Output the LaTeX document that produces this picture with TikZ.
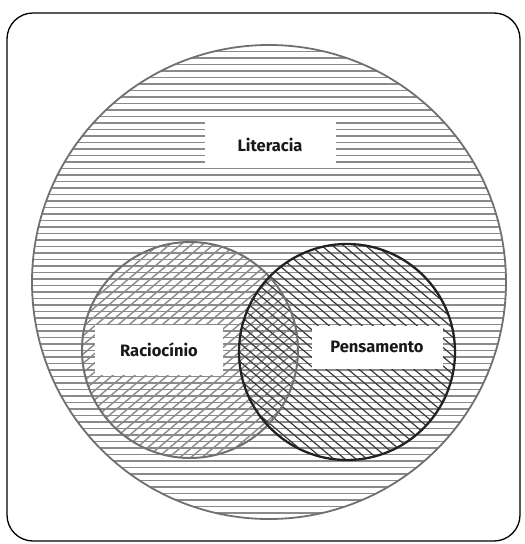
\documentclass[tikz,border=0pt]{standalone}
\usepackage{fontspec}
\setmainfont{Fira Sans}
\definecolor{hatchgray}{HTML}{8A8A8A}
\definecolor{rimgray}{HTML}{707070}
\definecolor{darkhatch}{HTML}{3A3A3A}
\definecolor{darkrim}{HTML}{222222}
\begin{document}
\begin{tikzpicture}[x=1pt,y=-1pt,
  frame/.style={draw=black, line width=1.3pt, rounded corners=26pt},
  hline/.style={draw=hatchgray, line width=1.6pt},
  slashline/.style={draw=hatchgray, line width=1.4pt},
  backline/.style={draw=darkhatch, line width=1.2pt},
  label/.style={fill=white, inner sep=0pt, font=\fontsize{16.5}{19}\selectfont\bfseries, text=black!90},
  ring/.style={circle, inner sep=0pt}
]
\useasboundingbox (0,0) rectangle (525,544);
\draw[frame] (7,13) rectangle (520,541);

% hatching of the big circle
\begin{scope}
  \clip (269,282) circle[radius=237];
  \foreach \yy in {45,51.5,...,522} \draw[hline] (28,\yy) -- (510,\yy);
\end{scope}
% hatching of the left circle
\begin{scope}
  \clip (190,350) circle[radius=108];
  \foreach \k in {-220,-209,...,320} \draw[slashline] (\k,470) -- ++(286,-240);
\end{scope}
% hatching of the right circle
\begin{scope}
  \clip (347,352) circle[radius=108];
  \foreach \k in {-60,-49,...,470} \draw[backline] (\k,230) -- ++(286,240);
\end{scope}

\node[ring, minimum size=474pt, draw=rimgray, line width=1.8pt] (lit) at (269,282) {};
\node[ring, minimum size=216pt, draw=rimgray, line width=2pt] (rac) at (190,350) {};
\node[ring, minimum size=216pt, draw=darkrim, line width=2.3pt] (pen) at (347,352) {};

\node[label, minimum width=131pt, minimum height=46pt] (litlab) at (270,145) {Literacia};
\node[label, minimum width=128pt, minimum height=50pt] (raclab) at (159,350) {Raciocínio};
\node[label, minimum width=131pt, minimum height=43pt] (penlab) at (377,347) {Pensamento};
\end{tikzpicture}
\end{document}
